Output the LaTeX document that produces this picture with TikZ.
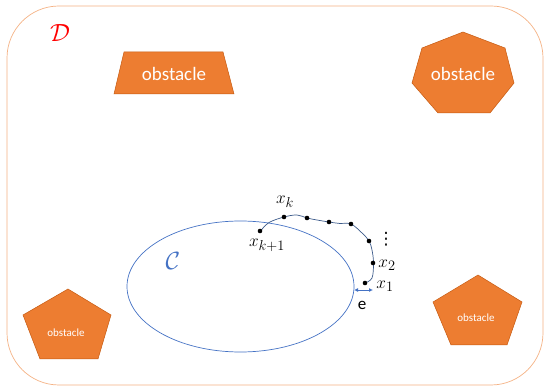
\documentclass[tikz,border=0pt]{standalone}
\usepackage{fontspec}
\setmainfont{Carlito}
\newfontfamily\simbolos{DejaVu Sans}
\usetikzlibrary{arrows.meta}

\definecolor{naranjaobs}{HTML}{ED7D31}
\definecolor{bordeobs}{HTML}{C55A11}
\definecolor{bordedom}{HTML}{F4B183}
\definecolor{azulconj}{HTML}{4472C4}
\definecolor{azultray}{HTML}{3C5A8A}

\begin{document}
\begin{tikzpicture}[
		x=1pt, y=-1pt,
		% Estilos de obstaculos
		obstaculo/.style={fill=naranjaobs, draw=bordeobs, line width=0.5pt},
		texto_obs/.style={text=white, inner sep=0pt, font=\fontsize{19}{22}\selectfont},
		texto_obs_peq/.style={text=white, inner sep=0pt, font=\fontsize{11}{13}\selectfont},
		% Estilos de la trayectoria
		punto/.style={circle, fill=black, inner sep=0pt, minimum size=4.6pt},
		label_est/.style={inner sep=0pt, font=\fontsize{19}{21}\selectfont},
		flecha/.style={{Latex[length=4pt,width=4pt]}-{Latex[length=4pt,width=4pt]}, draw=azulconj, line width=0.8pt}
		]
		\useasboundingbox (0,0) rectangle (544,387);
		
		% --- DOMINIO ---
		\draw[bordedom, line width=0.7pt, rounded corners=52pt] (7,6) rectangle (543,385);
		\node[text=red, font=\fontsize{28}{30}\selectfont] (dominio) at (60,33) {$\mathcal{D}$};
		
		% --- OBSTACULOS ---
		\filldraw[obstaculo] (124,52) -- (223,52) -- (234,94) -- (114,94) -- cycle;
		\node[texto_obs] (obs1) at (174,74) {obstacle};
		
		\filldraw[obstaculo] (463,32) -- (505,48) -- (514,83) -- (490,113) -- (438,113) -- (412,83) -- (422,48) -- cycle;
		\node[texto_obs] (obs2) at (463,74) {obstacle};
		
		\filldraw[obstaculo] (68,289) -- (111,315) -- (98,359) -- (40,359) -- (23,315) -- cycle;
		\node[texto_obs_peq] (obs3) at (66,333) {obstacle};
		
		\filldraw[obstaculo] (478,275) -- (522,302) -- (507,345) -- (451,345) -- (433,302) -- cycle;
		\node[texto_obs_peq] (obs4) at (476,318) {obstacle};
		
		% --- CONJUNTO C ---
		\draw[azulconj, line width=0.7pt] (240.5,286.5) ellipse [x radius=113.5, y radius=65.5];
		\node[text=azulconj, font=\fontsize{30}{32}\selectfont] (conj) at (173,261) {$\mathcal{C}$};
		
		% --- TRAYECTORIA ---
		\draw[azultray, line width=0.7pt] plot[smooth, tension=0.6] coordinates {
			(365,283) (372,278) (373.5,263) (372,250) (369,241) (362,233) (351,224) (340,223.5)
			(329,222) (317,220) (307,218) (297,215) (284,217) (270,222) (263,228) (261,231)};
		\node[punto] (p1) at (365,283) {};
		\node[punto] (p2) at (373,263) {};
		\node[punto] (p3) at (369,241) {};
		\node[punto] (p4) at (351,224) {};
		\node[punto] (p5) at (329,222) {};
		\node[punto] (p6) at (307,218) {};
		\node[punto] (pk) at (284,217) {};
		\node[punto] (pk1) at (260,231) {};
		
		\node[label_est] (lx1) at (385,286) {$x_1$};
		\node[label_est] (lx2) at (387,265) {$x_2$};
		\node[inner sep=0pt, font=\simbolos\fontsize{17}{19}\selectfont] (ldots) at (386,239) {⋮};
		\node[label_est] (lxk) at (285,202) {$x_k$};
		\node[label_est] (lxk1) at (267,245) {$x_{k+1}$};
		
		% --- DISTANCIA e ---
		\coordinate (borde) at (354,290);
		\coordinate (extremo) at (373,290);
		\draw[flecha] (borde) -- (extremo);
		\node[inner sep=0pt, font=\fontsize{17}{19}\selectfont] (le) at (362,305) {e};
		
	\end{tikzpicture}
\end{document}
